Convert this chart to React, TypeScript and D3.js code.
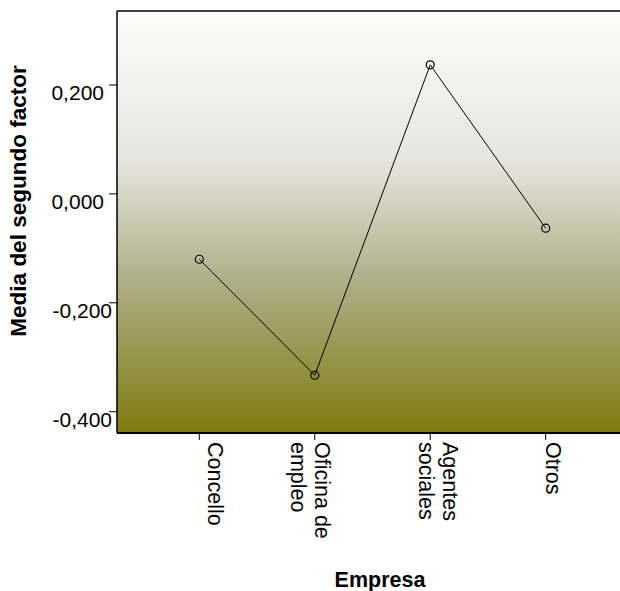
import React from "react";
import * as d3 from "d3";

// Mean of the second factor by company type
const categories: string[][] = [["Concello"], ["Oficina de", "empleo"], ["Agentes", "sociales"], ["Otros"]];
const means: number[] = [-0.12, -0.333, 0.237, -0.063];
const yTicks: number[] = [0.2, 0.0, -0.2, -0.4];
const yTitle = "Media del segundo factor";
const xTitle = "Empresa";

const W = 620;
const H = 591;
const plot = { left: 117, top: 11, right: 628, bottom: 433 };
const FONT = "'Liberation Sans', Arial, Helvetica, sans-serif";
// horizontal nudges of the rotated category labels relative to their ticks
const labelShift = [9, 0, 13, 0];

const fmt = (v: number) => (v < 0 ? "-" : "") + Math.abs(v).toFixed(3).replace(".", ",");

export default function App() {
  const keys = categories.map((c) => c.join(" "));
  const x = d3.scalePoint<string>().domain(keys).range([plot.left, plot.right]).padding(0.713);
  const y = d3.scaleLinear().domain([-0.4391, 0.3359]).range([plot.bottom, plot.top]);
  const pts: [number, number][] = means.map((m, i) => [x(keys[i]) as number, y(m)]);
  const line = d3.line()(pts) as string;

  return (
    <svg width={W} height={H} style={{ position: "absolute", left: 0, top: 0 }} fontFamily={FONT}>
      <defs>
        <linearGradient id="bg" x1="0" y1="0" x2="0" y2="1">
          <stop offset="0%" stopColor="#fcfcfb" />
          <stop offset="35%" stopColor="#e6e6e0" />
          <stop offset="65%" stopColor="#aeac83" />
          <stop offset="100%" stopColor="#7e7c10" />
        </linearGradient>
      </defs>
      <rect x={plot.left} y={plot.top} width={plot.right - plot.left} height={plot.bottom - plot.top} fill="url(#bg)" />
      <line x1={plot.left} x2={plot.right} y1={plot.top} y2={plot.top} stroke="#000" strokeWidth={1.5} />
      <line x1={plot.left} x2={plot.right} y1={plot.bottom} y2={plot.bottom} stroke="#000" strokeWidth={2} />
      <line x1={plot.left} x2={plot.left} y1={plot.top} y2={plot.bottom} stroke="#000" strokeWidth={1.5} />

      {yTicks.map((t) => (
        <g key={t}>
          <line x1={plot.left - 8} x2={plot.left} y1={y(t)} y2={y(t)} stroke="#000" strokeWidth={1} />
          <text x={t < 0 ? plot.left - 5 : plot.left - 13} y={y(t) + 15} fontSize={21} textAnchor="end" fill="#000">
            {fmt(t)}
          </text>
        </g>
      ))}

      {categories.map((lines, i) => {
        const cx = x(keys[i]) as number;
        return (
          <g key={keys[i]}>
            <line x1={cx} x2={cx} y1={plot.bottom} y2={plot.bottom + 7} stroke="#000" strokeWidth={1} />
            {lines.map((ln, j) => (
              <text
                key={ln}
                transform={`translate(${cx + labelShift[i] - j * 24},${plot.bottom + 9}) rotate(90)`}
                fontSize={21.5}
                fill="#000"
              >
                {ln}
              </text>
            ))}
          </g>
        );
      })}

      <path d={line} fill="none" stroke="#000" strokeWidth={1} />
      {pts.map(([px, py], i) => (
        <circle key={i} cx={px} cy={py} r={4} fill="none" stroke="#000" strokeWidth={1.2} />
      ))}

      <text
        transform={`translate(26,${(plot.top + plot.bottom) / 2 - 21}) rotate(-90)`}
        textAnchor="middle"
        fontSize={22.5}
        fontWeight="bold"
        fill="#000"
      >
        {yTitle}
      </text>
      <text x={380} y={587} textAnchor="middle" fontSize={21.5} fontWeight="bold" fill="#000">
        {xTitle}
      </text>
    </svg>
  );
}
